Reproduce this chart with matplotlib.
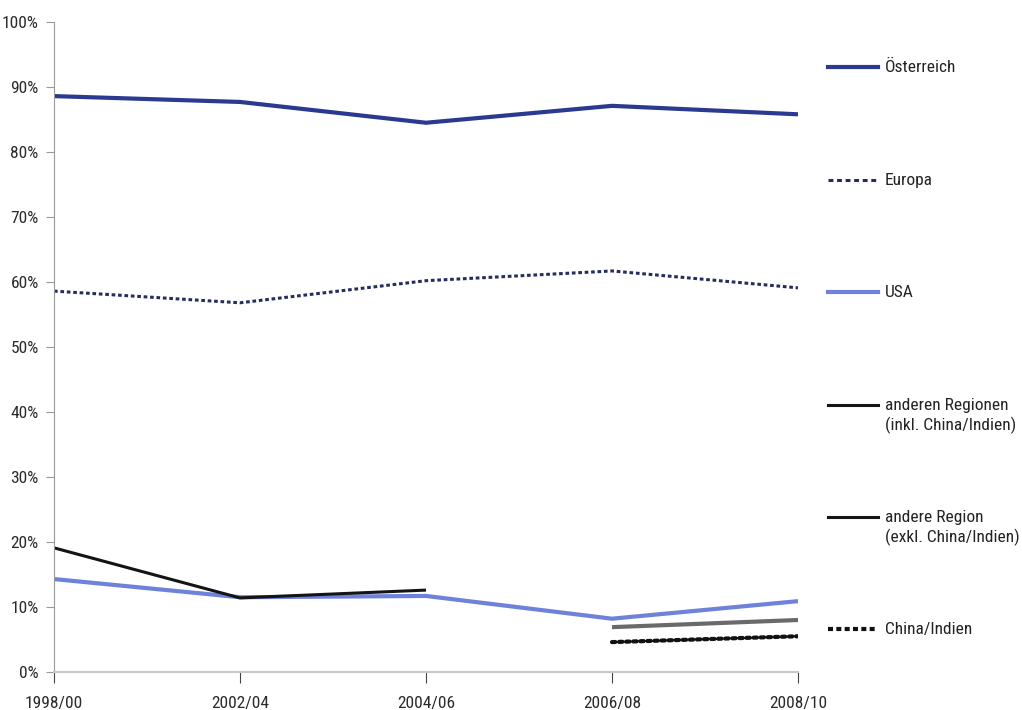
import matplotlib.pyplot as plt
from matplotlib.lines import Line2D

# Daten (Anteile in %)
periods = ["1998/00", "2002/04", "2004/06", "2006/08", "2008/10"]
oesterreich = [88.6, 87.7, 84.5, 87.1, 85.8]
europa = [58.6, 56.8, 60.2, 61.7, 59.1]
usa = [14.3, 11.5, 11.7, 8.2, 10.9]
andere_inkl = [19.1, 11.4, 12.6, None, None]
andere_exkl = [None, None, None, 6.9, 8.0]
china_indien = [None, None, None, 4.6, 5.5]

plt.rcParams["font.family"] = ["Roboto Condensed", "DejaVu Sans"]

fig = plt.figure(figsize=(10.22, 7.10), dpi=100)
ax = fig.add_axes([54 / 1022, 1 - 672 / 710, (798 - 54) / 1022, (672 - 22) / 710])

x = list(range(len(periods)))


def pts(vals):
    xs = [i for i, v in zip(x, vals) if v is not None]
    ys = [v for v in vals if v is not None]
    return xs, ys


series = [
    ("Österreich", oesterreich, dict(color="#2b3990", lw=3.0, ls="-")),
    ("Europa", europa, dict(color="#262c5e", lw=2.2, ls=(0, (1.2, 0.9)))),
    ("USA", usa, dict(color="#6e82da", lw=3.0, ls="-")),
    ("anderen Regionen\n(inkl. China/Indien)", andere_inkl, dict(color="#141414", lw=2.2, ls="-")),
    ("andere Region\n(exkl. China/Indien)", andere_exkl, dict(color="#6a6a6a", lw=3.0, ls="-")),
    ("China/Indien", china_indien, dict(color="#111111", lw=3.0, ls=(0, (0.8, 0.9)), dash_capstyle="round")),
]

for label, vals, style in series:
    xs, ys = pts(vals)
    ax.plot(xs, ys, solid_capstyle="butt", **style)

ax.set_xlim(0, 4)
ax.set_ylim(0, 100)
ax.set_xticks(x)
ax.set_xticklabels(periods)
ax.set_yticks(range(0, 101, 10))
ax.set_yticklabels([f"{v}%" for v in range(0, 101, 10)])
ax.tick_params(axis="both", labelsize=12.5, colors="#2a2a2a")
ax.tick_params(axis="y", length=6, color="#999999", pad=5)
ax.tick_params(axis="x", length=8, color="#444444", pad=9)
for s in ["top", "right"]:
    ax.spines[s].set_visible(False)
ax.spines["left"].set_color("#9a9a9a")
ax.spines["bottom"].set_color("#c8c8c8")
ax.spines["bottom"].set_linewidth(1.5)

# Legende rechts
legend_style = {
    "Österreich": dict(color="#2b3990", lw=3.0, ls="-"),
    "Europa": dict(color="#262c5e", lw=2.2, ls=(0, (1.6, 1.2))),
    "USA": dict(color="#6e82da", lw=3.0, ls="-"),
    "anderen Regionen\n(inkl. China/Indien)": dict(color="#141414", lw=2.2, ls="-"),
    "andere Region\n(exkl. China/Indien)": dict(color="#141414", lw=2.2, ls="-"),
    "China/Indien": dict(color="#111111", lw=3.0, ls=(0, (1.2, 0.8))),
}
ys_px = [67, 180, 292, 405, 517, 629]
for (label, _, _), ypx in zip(series, ys_px):
    yf = 1 - ypx / 710
    fig.add_artist(Line2D([828 / 1022, 878 / 1022], [yf, yf], transform=fig.transFigure,
                          **legend_style[label]))
    fig.text(885 / 1022, 1 - (ypx - 7) / 710, label, fontsize=12.5, color="#222222",
             va="top", ha="left", linespacing=1.3)

fig.savefig("out.png", dpi=100)
